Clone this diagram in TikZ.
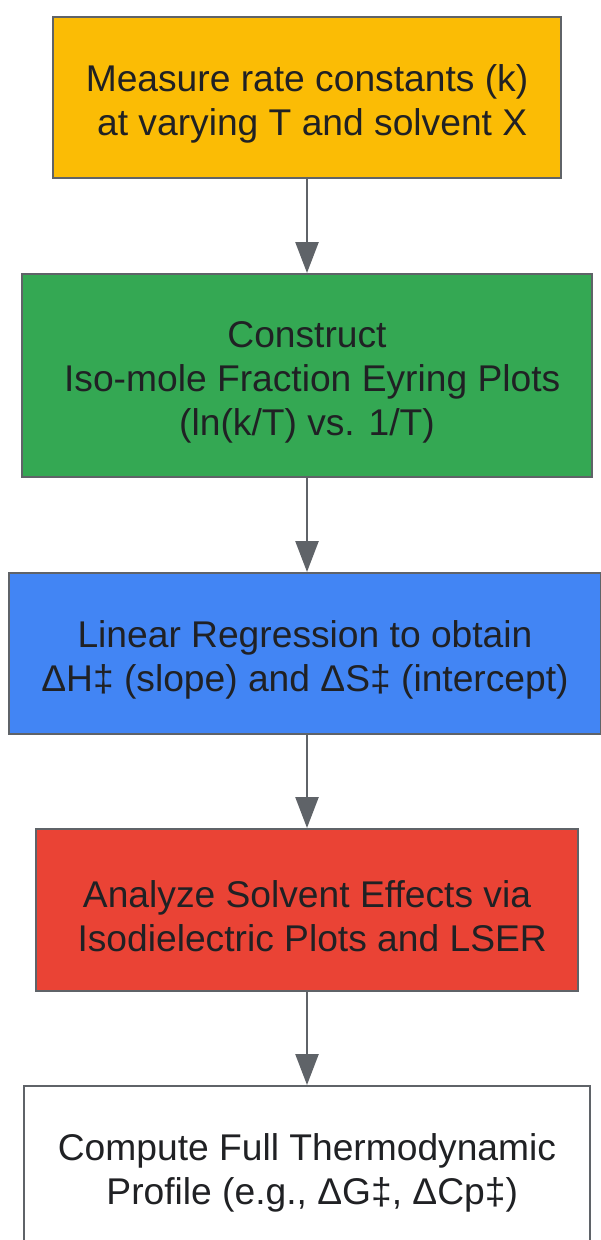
\documentclass[tikz,border=0pt]{standalone}
\usepackage{fontspec}
\setmainfont{Liberation Sans}
\usepackage{tikz}
\usetikzlibrary{arrows.meta, positioning}

\definecolor{stepyellow}{HTML}{FBBC05}
\definecolor{stepgreen}{HTML}{34A853}
\definecolor{stepblue}{HTML}{4285F4}
\definecolor{stepred}{HTML}{EA4335}
\definecolor{edgegray}{HTML}{5F6368}
\definecolor{textdark}{HTML}{202124}

\newcommand{\stepstrut}{\rule{0pt}{39pt}}

\begin{document}
\begin{tikzpicture}[x=1pt, y=-1pt,
        stepbox/.style={draw=edgegray, line width=2pt, align=center, text=textdark,
            font=\fontsize{37.2}{44}\selectfont, inner sep=0pt},
        flow/.style={draw=edgegray, line width=2.5pt, -{Triangle[width=23pt, length=31pt]}}]

        % Khung hình
        \useasboundingbox (0,0) rectangle (601,1240);

        % Các bước
        \node[stepbox, fill=stepyellow, minimum width=508pt, minimum height=161pt] (measure) at (307,97.5)
            {\stepstrut Measure rate constants (k)\\\hspace*{0.28em}at varying T and solvent X};
        \node[stepbox, fill=stepgreen, minimum width=570pt, minimum height=203pt] (eyring) at (307,375.5)
            {\stepstrut Construct\\\hspace*{0.28em}Iso-mole Fraction Eyring Plots\\(ln(k/T) vs. 1/T)};
        \node[stepbox, fill=stepblue, minimum width=592pt, minimum height=161pt] (regress) at (305,653.5)
            {\stepstrut Linear Regression to obtain\\ΔH‡ (slope) and ΔS‡ (intercept)};
        \node[stepbox, fill=stepred, minimum width=542pt, minimum height=162pt] (solvent) at (307,910)
            {\stepstrut Analyze Solvent Effects via\\\hspace*{0.28em}Isodielectric Plots and LSER};
        \node[stepbox, fill=white, minimum width=566pt, minimum height=162pt] (profile) at (307,1167)
            {\stepstrut Compute Full Thermodynamic\\\hspace*{0.28em}Profile (e.g., ΔG‡, ΔCp‡)};

        % Mũi tên
        \draw[flow] (measure.south) -- (eyring.north);
        \draw[flow] (eyring.south) -- (regress.north -| eyring.south);
        \draw[flow] (regress.south -| eyring.south) -- (solvent.north);
        \draw[flow] (solvent.south) -- (profile.north);

\end{tikzpicture}
\end{document}
